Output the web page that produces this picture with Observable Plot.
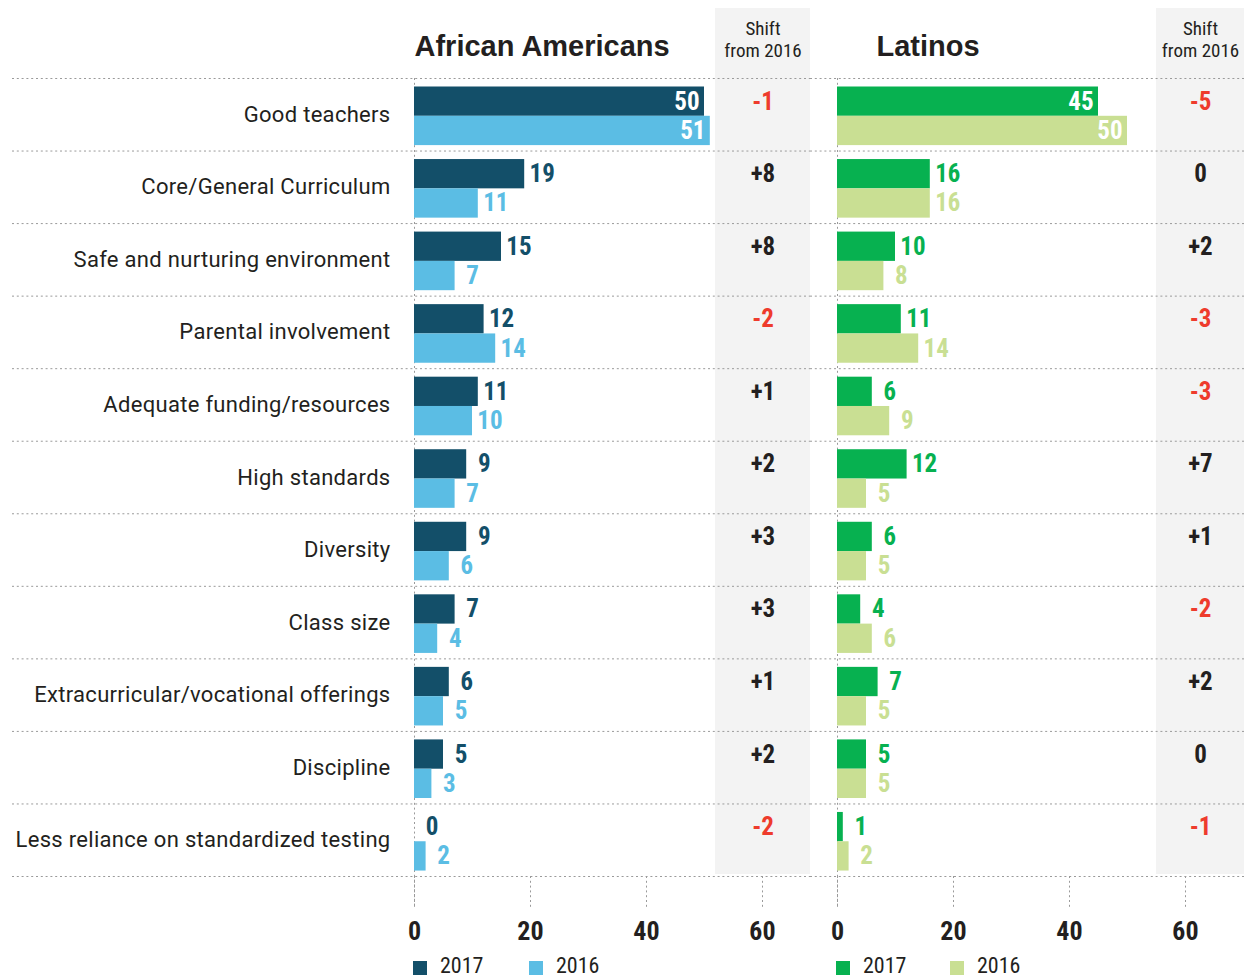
<!DOCTYPE html>
<html>
<head>
<meta charset="utf-8">
<script src="https://cdn.jsdelivr.net/npm/d3@7"></script>
<script src="https://cdn.jsdelivr.net/npm/@observablehq/plot@0.6"></script>
<style>
  body { margin: 0; background: #fff; }
  #chart { position: relative; width: 1244px; height: 979px; overflow: hidden; background: #fff; }
  #chart svg { position: absolute; top: 0; }
  .ylab text { letter-spacing: 0.3px; }
  .sw { position: absolute; top: 961px; width: 14px; height: 14px; }
  .lt { position: absolute; top: 957px; font-family: "Roboto Condensed", sans-serif; font-size: 22px; line-height: 18px; color: #231f20; }
</style>
</head>
<body>
<div id="chart"></div>
<script>
// ---- data ----
const categories = [
  "Good teachers",
  "Core/General Curriculum",
  "Safe and nurturing environment",
  "Parental involvement",
  "Adequate funding/resources",
  "High standards",
  "Diversity",
  "Class size",
  "Extracurricular/vocational offerings",
  "Discipline",
  "Less reliance on standardized testing"
];
const years = ["2017", "2016"];
const groups = ["African Americans", "Latinos"];
const africanAmericans2017 = [50, 19, 15, 12, 11, 9, 9, 7, 6, 5, 0];
const africanAmericans2016 = [51, 11, 7, 14, 10, 7, 6, 4, 5, 3, 2];
const africanAmericansShift = [-1, 8, 8, -2, 1, 2, 3, 3, 1, 2, -2];
const latinos2017 = [45, 16, 10, 11, 6, 12, 6, 4, 7, 5, 1];
const latinos2016 = [50, 16, 8, 14, 9, 5, 5, 6, 5, 5, 2];
const latinosShift = [-5, 0, 2, -3, -3, 7, 1, -2, 2, 0, -1];
const xTicks = [0, 20, 40, 60];
const shiftHeader = "Shift\nfrom 2016";

// ---- style ----
const NUM = '"Roboto Condensed", "Open Sans", sans-serif';
const LAB = 'Roboto, "Liberation Sans", Arial, sans-serif';
const DARK = "#231f20";
const RED = "#ee3b2c";
const GRID = "#9a9a9a";
const DASH = "2,2.8";
const PX_PER_UNIT = 5.8;
const TOP = 78, BOTTOM = 876, HEIGHT = 944;
const bw = (BOTTOM - TOP) / categories.length;
const barH = 29.3, barTop = 8.5;

const fmtShift = v => v > 0 ? "+" + v : String(v);

function panel(cfg) {
  const {title, titleDx, v17, v16, shift, c17, c16, width, marginLeft, bandStart, gridInsetLeft, labels} = cfg;
  const rows17 = categories.map((c, i) => ({category: c, year: years[0], value: v17[i]}));
  const rows16 = categories.map((c, i) => ({category: c, year: years[1], value: v16[i]}));
  const shiftRows = categories.map((c, i) => ({category: c, shift: shift[i]}));
  const xMax = (width - marginLeft) / PX_PER_UNIT;
  const bandMid = (bandStart + xMax) / 2;
  const dy17 = barTop + barH / 2 - bw / 2;
  const dy16 = barTop + barH * 1.5 - bw / 2;
  const inside = d => d.value >= 40;
  const outside = d => d.value < 40;
  const numText = {fontFamily: NUM, fontWeight: "bold", fontSize: 25, textAnchor: "middle", lineAnchor: "middle"};
  const marks = [
    Plot.rect({length: 1}, {x1: bandStart, x2: xMax, fill: "#f3f3f3", insetTop: 8 - TOP, insetBottom: BOTTOM - 874}),
    Plot.ruleY(categories, {dy: -bw / 2, stroke: GRID, strokeDasharray: DASH, insetLeft: -gridInsetLeft}),
    Plot.ruleY(categories.slice(-1), {dy: bw / 2, stroke: GRID, strokeDasharray: DASH, insetLeft: -gridInsetLeft}),
    Plot.ruleX([0], {stroke: GRID, strokeDasharray: DASH, insetBottom: -(907 - BOTTOM)}),
    Plot.axisX({ticks: xTicks, tickSize: 907 - BOTTOM, tickPadding: 14, stroke: GRID, strokeDasharray: DASH, fill: DARK,
      fontFamily: NUM, fontWeight: "bold", fontSize: 26, label: null, tickFormat: d => String(d)}),
    Plot.barX(rows17, {x: "value", y: "category", fill: c17, insetTop: barTop, insetBottom: bw - barTop - barH}),
    Plot.barX(rows16, {x: "value", y: "category", fill: c16, insetTop: barTop + barH, insetBottom: bw - barTop - 2 * barH}),
    Plot.text(rows17, {filter: inside, x: "value", y: "category", text: "value", dy: dy17, dx: -17.5, fill: "white", ...numText}),
    Plot.text(rows16, {filter: inside, x: "value", y: "category", text: "value", dy: dy16, dx: -17.5, fill: "white", ...numText}),
    Plot.text(rows17, {filter: outside, x: "value", y: "category", text: "value", dy: dy17, dx: 17.5, fill: c17, ...numText}),
    Plot.text(rows16, {filter: outside, x: "value", y: "category", text: "value", dy: dy16, dx: 17.5, fill: c16, ...numText}),
    Plot.text(shiftRows, {x: bandMid, y: "category", text: d => fmtShift(d.shift), dy: dy17,
      fill: d => d.shift < 0 ? RED : DARK, ...numText}),
    Plot.text([title], {frameAnchor: "top-left", dx: titleDx, dy: 46 - TOP, textAnchor: "start", lineAnchor: "middle",
      fontFamily: '"Liberation Sans", Arial, sans-serif', fontWeight: "bold", fontSize: 29, fill: DARK}),
    Plot.text([shiftHeader], {x: bandMid, frameAnchor: "top", dy: 38.5 - TOP, textAnchor: "middle", lineAnchor: "middle",
      lineHeight: 1.18, fontFamily: NUM, fontSize: 19, fill: DARK})
  ];
  if (labels) {
    marks.push(Plot.axisY({tickSize: 0, tickPadding: 24, fontSize: 22, fontFamily: LAB, fill: DARK, label: null, className: "ylab"}));
  }
  return Plot.plot({
    width, height: HEIGHT,
    marginTop: TOP, marginBottom: HEIGHT - BOTTOM, marginLeft, marginRight: 0,
    x: {domain: [0, xMax], label: null},
    y: {type: "band", domain: categories, padding: 0, round: false, label: null, axis: labels ? undefined : null},
    style: {background: "transparent", overflow: "visible", color: DARK},
    marks
  });
}

const chart = document.getElementById("chart");
const left = panel({
  title: groups[0], titleDx: 0,
  v17: africanAmericans2017, v16: africanAmericans2016, shift: africanAmericansShift,
  c17: "#134f69", c16: "#5bbde4",
  width: 810, marginLeft: 414, bandStart: (715 - 414) / PX_PER_UNIT, gridInsetLeft: 402, labels: true
});
left.style.left = "0px";
const right = panel({
  title: groups[1], titleDx: 39,
  v17: latinos2017, v16: latinos2016, shift: latinosShift,
  c17: "#07b150", c16: "#c9df93",
  width: 434, marginLeft: 27, bandStart: (1156 - 837) / PX_PER_UNIT, gridInsetLeft: 27, labels: false
});
right.style.left = "810px";
chart.appendChild(left);
chart.appendChild(right);

// legends
const legends = [
  {x: 413, color: "#134f69", label: years[0]}, {x: 529, color: "#5bbde4", label: years[1]},
  {x: 836, color: "#07b150", label: years[0]}, {x: 950, color: "#c9df93", label: years[1]}
];
for (const l of legends) {
  const sw = document.createElement("div");
  sw.className = "sw"; sw.style.left = l.x + "px"; sw.style.background = l.color;
  const t = document.createElement("div");
  t.className = "lt"; t.style.left = (l.x + 27) + "px"; t.textContent = l.label;
  chart.appendChild(sw); chart.appendChild(t);
}
</script>
</body>
</html>
